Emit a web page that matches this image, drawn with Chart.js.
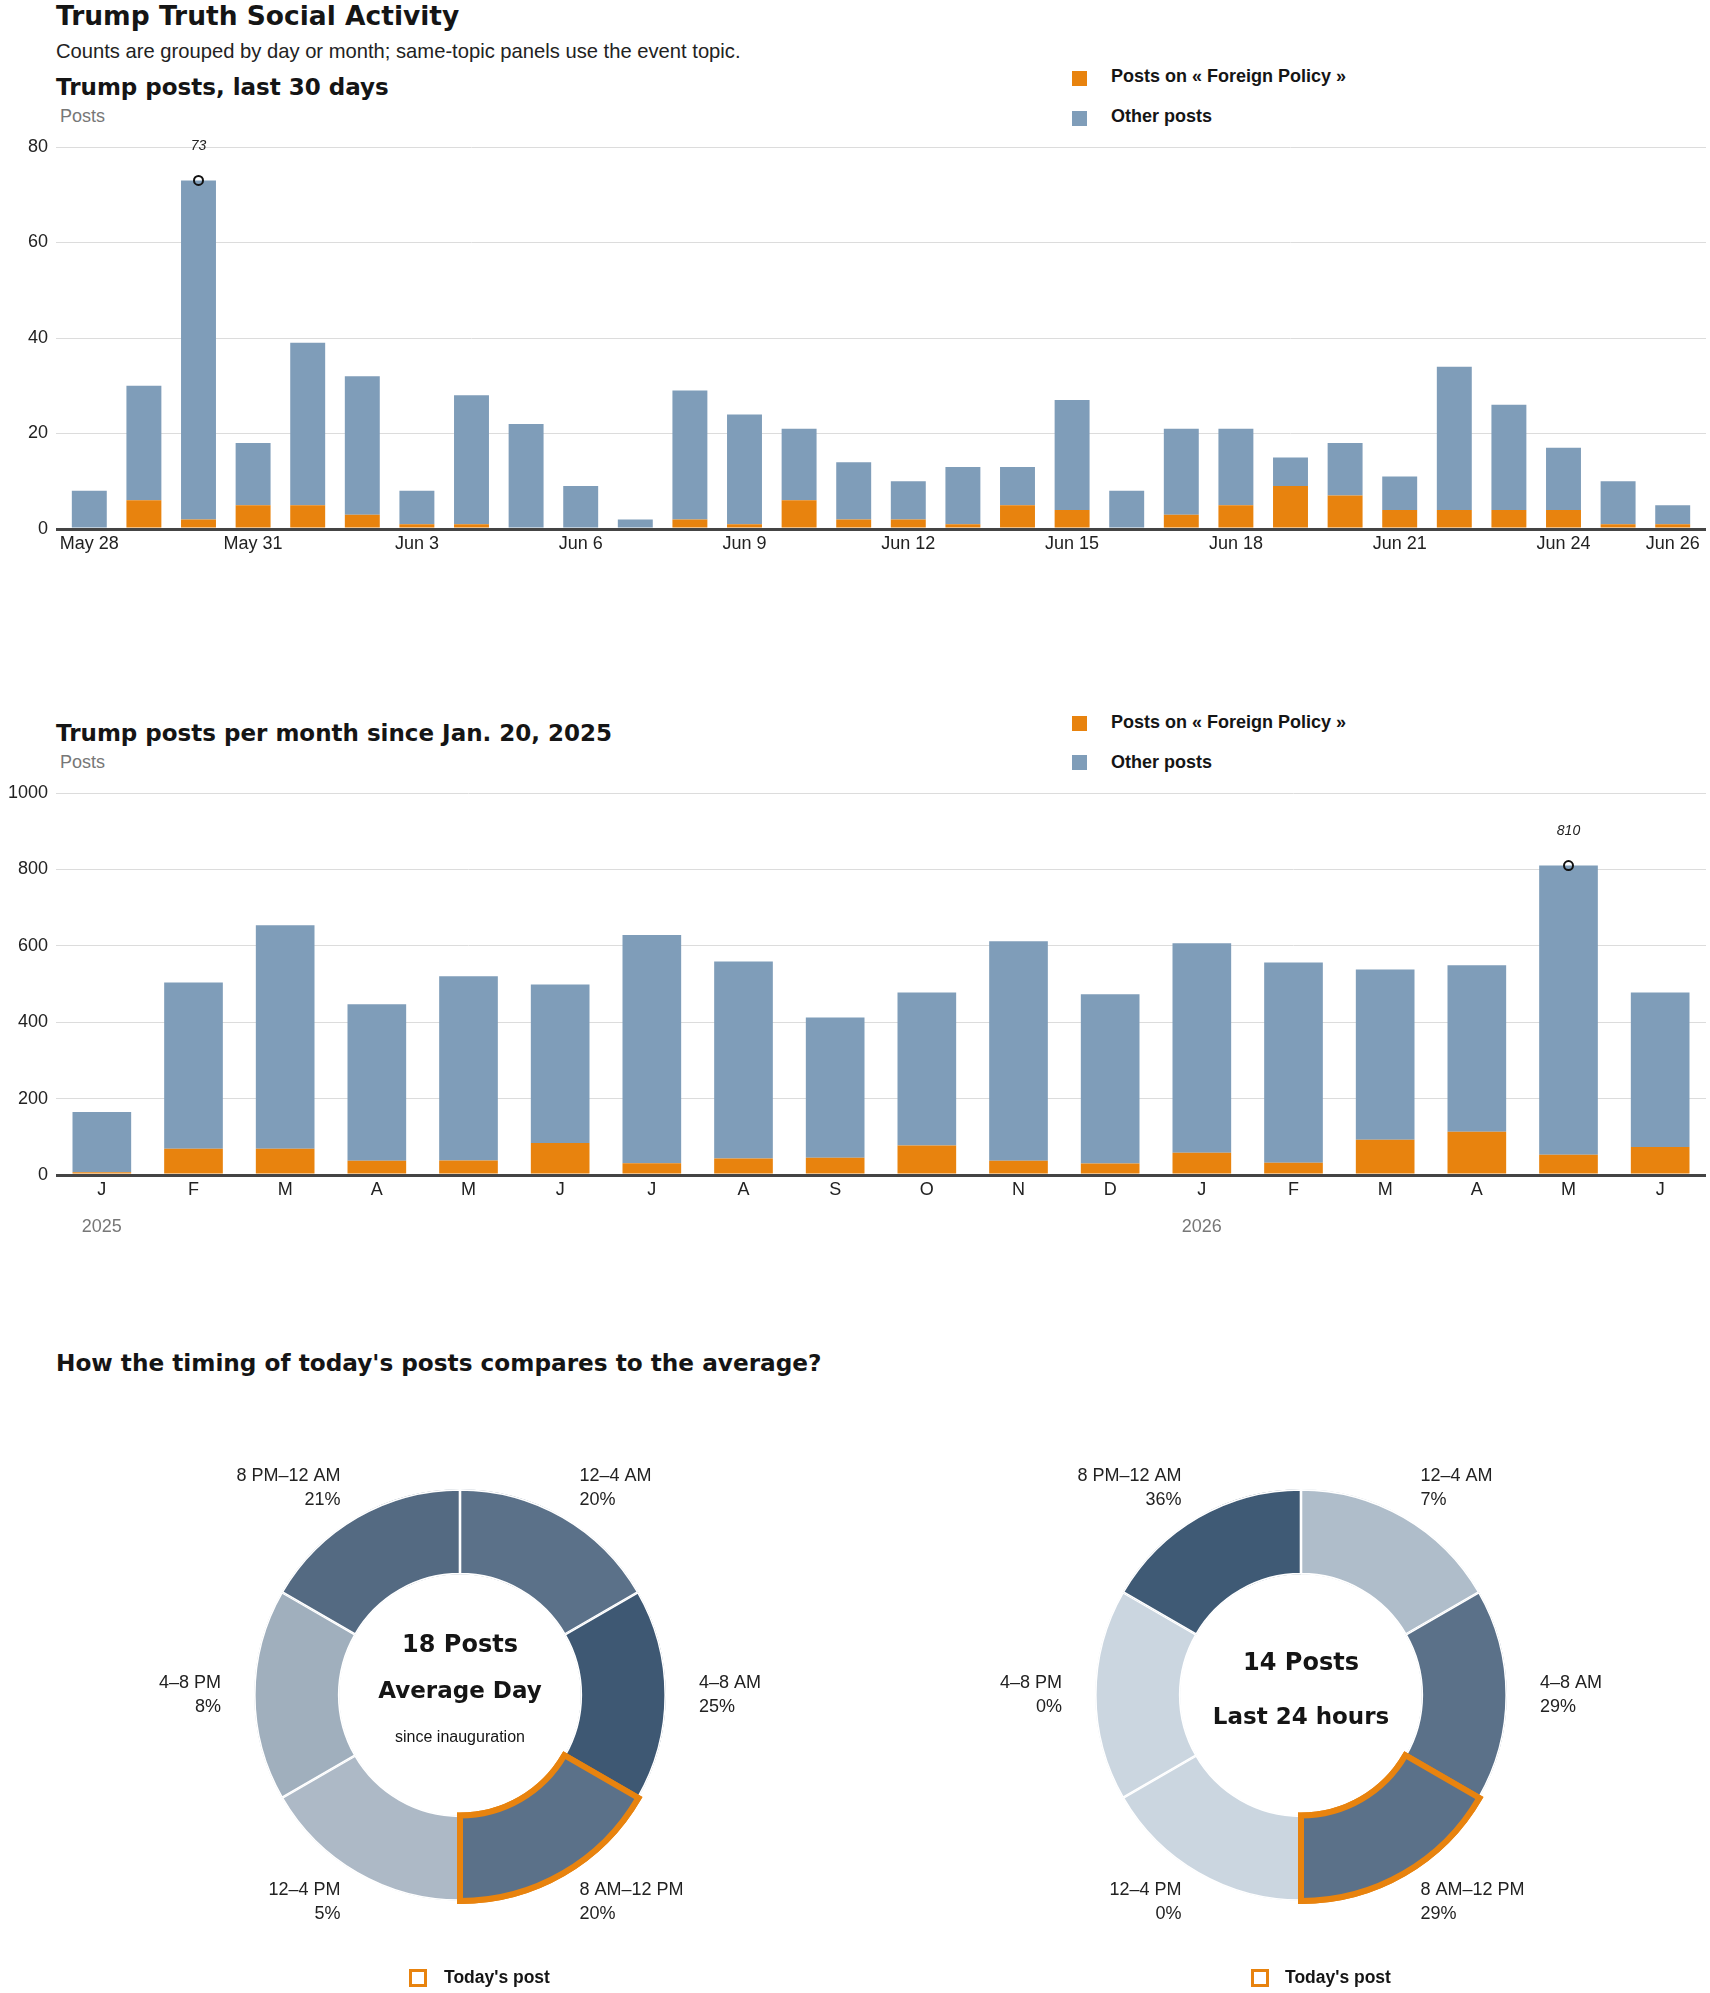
<!DOCTYPE html>
<html>
<head>
<meta charset="utf-8">
<title>Trump Truth Social Activity</title>
<script src="https://cdn.jsdelivr.net/npm/chart.js@4.4.1/dist/chart.umd.min.js"></script>
<style>
    body { margin: 0; background: #fff; }
    #page { position: relative; width: 1710px; height: 1993px; font-family: 'Liberation Sans', Arial, sans-serif; color: #111; }
    .abs { position: absolute; white-space: nowrap; line-height: 1; }
    .hed { font-family: 'DejaVu Sans', sans-serif; font-weight: bold; color: #151515; }
    .axisname { font-size: 18px; color: #777; }
    .legtext { font-weight: bold; font-size: 18px; color: #151515; }
    .sq { position: absolute; width: 15px; height: 15px; }
    .box { position: absolute; width: 12px; height: 12px; border: 3px solid #e8830e; }
    canvas { position: absolute; }
</style>
</head>
<body>
<div id="page">
    <div class="abs hed" style="left:56px; top:3px; font-size:26.5px;">Trump Truth Social Activity</div>
    <div class="abs" style="left:56px; top:41px; font-size:20.2px; color:#222;">Counts are grouped by day or month; same-topic panels use the event topic.</div>

    <div class="abs hed" style="left:56px; top:76px; font-size:23px;">Trump posts, last 30 days</div>
    <div class="abs axisname" style="left:60px; top:107px;">Posts</div>
    <div class="sq" style="left:1072px; top:71px; background:#e8830e;"></div>
    <div class="abs legtext" style="left:1111px; top:67px;">Posts on « Foreign Policy »</div>
    <div class="sq" style="left:1072px; top:111px; background:#7f9db9;"></div>
    <div class="abs legtext" style="left:1111px; top:107px;">Other posts</div>
    <canvas id="dayChart" width="1710" height="450" style="left:0; top:120px;"></canvas>

    <div class="abs hed" style="left:56px; top:722px; font-size:23px;">Trump posts per month since Jan. 20, 2025</div>
    <div class="abs axisname" style="left:60px; top:753px;">Posts</div>
    <div class="sq" style="left:1072px; top:716px; background:#e8830e;"></div>
    <div class="abs legtext" style="left:1111px; top:713px;">Posts on « Foreign Policy »</div>
    <div class="sq" style="left:1072px; top:755px; background:#7f9db9;"></div>
    <div class="abs legtext" style="left:1111px; top:753px;">Other posts</div>
    <canvas id="monthChart" width="1710" height="480" style="left:0; top:765px;"></canvas>

    <div class="abs hed" style="left:56px; top:1351px; font-size:23.2px;">How the timing of today's posts compares to the average?</div>
    <canvas id="avgDonut" width="700" height="560" style="left:110px; top:1415px;"></canvas>
    <canvas id="todayDonut" width="700" height="560" style="left:951px; top:1415px;"></canvas>
    <div class="box" style="left:409px; top:1969px;"></div>
    <div class="abs legtext" style="left:444px; top:1969px; font-size:17.5px;">Today's post</div>
    <div class="box" style="left:1251px; top:1969px;"></div>
    <div class="abs legtext" style="left:1285px; top:1969px; font-size:17.5px;">Today's post</div>
</div>

<script>
    // --- data ---
    var dayLabels = ['May 28', 'May 29', 'May 30', 'May 31', 'Jun 1', 'Jun 2', 'Jun 3', 'Jun 4', 'Jun 5', 'Jun 6',
        'Jun 7', 'Jun 8', 'Jun 9', 'Jun 10', 'Jun 11', 'Jun 12', 'Jun 13', 'Jun 14', 'Jun 15', 'Jun 16',
        'Jun 17', 'Jun 18', 'Jun 19', 'Jun 20', 'Jun 21', 'Jun 22', 'Jun 23', 'Jun 24', 'Jun 25', 'Jun 26'];
    var dayTotal = [8, 30, 73, 18, 39, 32, 8, 28, 22, 9, 2, 29, 24, 21, 14, 10, 13, 13, 27, 8, 21, 21, 15, 18, 11, 34, 26, 17, 10, 5];
    var dayForeign = [0, 6, 2, 5, 5, 3, 1, 1, 0, 0, 0, 2, 1, 6, 2, 2, 1, 5, 4, 0, 3, 5, 9, 7, 4, 4, 4, 4, 1, 1];

    var monthLabels = ['J', 'F', 'M', 'A', 'M', 'J', 'J', 'A', 'S', 'O', 'N', 'D', 'J', 'F', 'M', 'A', 'M', 'J'];
    var monthYears = ['2025', '', '', '', '', '', '', '', '', '', '', '', '2026', '', '', '', '', ''];
    var monthTotal = [165, 504, 654, 447, 520, 499, 628, 559, 412, 478, 612, 473, 607, 556, 538, 549, 810, 478];
    var monthForeign = [7, 69, 69, 37, 38, 84, 31, 43, 45, 77, 37, 30, 58, 32, 92, 113, 53, 73];

    var slotLabels = ['12–4 AM', '4–8 AM', '8 AM–12 PM', '12–4 PM', '4–8 PM', '8 PM–12 AM'];
    var slotWeights = [1, 1, 1, 1, 1, 1];
    var avgShare = [20, 25, 20, 5, 8, 21];
    var todayShare = [7, 29, 29, 0, 0, 36];
    var todaySlot = 2;
    var avgPostsPerDay = 18;
    var last24Posts = 14;

    // --- styles ---
    var ORANGE = '#e8830e';
    var BLUE = '#7f9db9';
    var avgColors = ['#5b7189', '#3e5873', '#5b7189', '#adb9c6', '#a0afbd', '#546a82'];
    var todayColors = ['#afbdca', '#5b7189', '#5b7189', '#cbd6e0', '#cbd6e0', '#3f5a75'];
    var SANS = "'Liberation Sans', Arial, sans-serif";
    var HEAD = "'DejaVu Sans', sans-serif";

    Chart.defaults.font.family = SANS;
    Chart.defaults.color = '#222';

    // zero line is the dark axis, the rest light gridlines
    function gridColor(c) { return c.tick && c.tick.value === 0 ? '#444' : '#dcdcdc'; }
    function gridWidth(c) { return c.tick && c.tick.value === 0 ? 3 : 1; }

    // circle + italic value on top of the tallest bar
    var peakPlugin = {
        id: 'peak',
        afterDatasetsDraw: function (chart, args, opts) {
            var bar = chart.getDatasetMeta(1).data[opts.index];
            var ds = chart.data.datasets;
            var value = ds[0].data[opts.index] + ds[1].data[opts.index];
            var ctx = chart.ctx;
            ctx.save();
            ctx.beginPath();
            ctx.arc(bar.x, bar.y, 4.5, 0, Math.PI * 2);
            ctx.lineWidth = 2;
            ctx.strokeStyle = '#111';
            ctx.stroke();
            ctx.font = "italic 14px 'Liberation Sans Narrow', " + SANS;
            ctx.fillStyle = '#222';
            ctx.textAlign = 'center';
            ctx.textBaseline = 'middle';
            ctx.fillText(String(value), bar.x, bar.y - 34);
            ctx.restore();
        }
    };

    function peakIndex(arr) {
        var best = 0;
        for (var i = 1; i < arr.length; i++) {
            if (arr[i] > arr[best]) best = i;
        }
        return best;
    }

    // inset = how far the gridlines run past the outer bars' slots
    function makeBarChart(id, labels, total, foreign, yMax, yStep, inset, pad, extraScales) {
        var other = [];
        for (var i = 0; i < total.length; i++) {
            other[i] = total[i] - foreign[i];
        }
        var scales = {
            x: {
                stacked: true,
                grid: { display: false, drawTicks: false },
                border: { display: false },
                ticks: { autoSkip: false, maxRotation: 0, padding: 4, color: '#222', font: { size: 18 } },
                afterFit: function (scale) { scale.height = 28; }
            },
            y: {
                stacked: true,
                min: 0,
                max: yMax,
                grid: { color: gridColor, lineWidth: gridWidth, drawTicks: inset > 0, tickLength: inset },
                border: { display: false },
                ticks: {
                    stepSize: yStep, padding: 8, color: '#222', font: { size: 18 },
                    callback: function (v) { return String(v); }
                },
                afterFit: function (scale) { scale.width = 56 + inset; }
            }
        };
        if (inset > 0) {
            scales.y2 = {
                position: 'right',
                min: 0,
                max: yMax,
                grid: { drawOnChartArea: false, drawTicks: true, tickLength: inset, color: gridColor, lineWidth: gridWidth },
                border: { display: false },
                ticks: { display: false, stepSize: yStep },
                afterFit: function (scale) { scale.width = inset; }
            };
        }
        for (var k in extraScales) {
            if (k === 'xTicks') {
                scales.x.ticks.callback = extraScales[k];
            } else {
                scales[k] = extraScales[k];
            }
        }
        var ctx = document.getElementById(id).getContext('2d');
        return new Chart(ctx, {
            type: 'bar',
            data: {
                labels: labels,
                datasets: [{
                    label: 'Posts on « Foreign Policy »',
                    data: foreign,
                    backgroundColor: ORANGE,
                    barPercentage: 0.64,
                    categoryPercentage: 1
                }, {
                    label: 'Other posts',
                    data: other,
                    backgroundColor: BLUE,
                    barPercentage: 0.64,
                    categoryPercentage: 1
                }]
            },
            options: {
                responsive: false,
                animation: false,
                layout: { padding: pad },
                plugins: {
                    legend: { display: false },
                    tooltip: { enabled: false },
                    peak: { index: peakIndex(total) }
                },
                scales: scales
            },
            plugins: [peakPlugin]
        });
    }

    makeBarChart('dayChart', dayLabels, dayTotal, dayForeign, 80, 20, 6,
        { top: 27, bottom: 13, left: 0, right: 4 },
        {
            xTicks: function (value, index) {
                return (index % 3 === 0 || index === dayLabels.length - 1) ? this.getLabelForValue(value) : '';
            }
        });

    makeBarChart('monthChart', monthLabels, monthTotal, monthForeign, 1000, 200, 0,
        { top: 28, bottom: 2, left: 0, right: 4 },
        {
            year: {
                type: 'category',
                labels: monthYears,
                position: 'bottom',
                weight: 1,
                offset: true,
                grid: { display: false, drawTicks: false },
                border: { display: false },
                ticks: { autoSkip: false, maxRotation: 0, padding: 13, color: '#777', font: { size: 18 } },
                afterFit: function (scale) { scale.height = 40; }
            }
        });

    // labels around the ring + text in the hole; today's slot redrawn on top
    var donutTextPlugin = {
        id: 'donutText',
        afterDatasetsDraw: function (chart, args, opts) {
            var ctx = chart.ctx;
            var arcs = chart.getDatasetMeta(0).data;
            arcs[todaySlot].draw(ctx);
            ctx.save();
            ctx.fillStyle = '#222';
            ctx.textBaseline = 'middle';
            ctx.font = '18px ' + SANS;
            for (var i = 0; i < arcs.length; i++) {
                var p = arcs[i].getProps(['x', 'y', 'startAngle', 'endAngle']);
                var mid = (p.startAngle + p.endAngle) / 2;
                var lx = p.x + Math.cos(mid) * 239;
                var ly = p.y + Math.sin(mid) * 239;
                ctx.textAlign = Math.cos(mid) >= 0 ? 'left' : 'right';
                ctx.fillText(chart.data.labels[i], lx, ly - 12);
                ctx.fillText(opts.shares[i] + '%', lx, ly + 12);
            }
            var cx = arcs[0].x, cy = arcs[0].y;
            ctx.textAlign = 'center';
            ctx.fillStyle = '#151515';
            for (var j = 0; j < opts.lines.length; j++) {
                var l = opts.lines[j];
                ctx.font = l.font;
                ctx.fillText(l.text, cx, cy + l.dy);
            }
            ctx.restore();
        }
    };

    function makeDonut(id, shares, colors, lines) {
        var ctx = document.getElementById(id).getContext('2d');
        return new Chart(ctx, {
            type: 'doughnut',
            data: {
                labels: slotLabels,
                datasets: [{
                    data: slotWeights,
                    backgroundColor: colors,
                    borderColor: function (c) { return c.dataIndex === todaySlot ? ORANGE : '#ffffff'; },
                    borderWidth: function (c) { return c.dataIndex === todaySlot ? 6 : 1.3; },
                    borderAlign: function (c) { return c.dataIndex === todaySlot ? 'center' : 'inner'; },
                    borderJoinStyle: 'miter',
                    hoverOffset: 0,
                    offset: 0
                }]
            },
            options: {
                responsive: false,
                animation: false,
                radius: 206,
                cutout: '58.5%',
                plugins: {
                    legend: { display: false },
                    tooltip: { enabled: false },
                    donutText: { shares: shares, lines: lines }
                }
            },
            plugins: [donutTextPlugin]
        });
    }

    makeDonut('avgDonut', avgShare, avgColors, [
        { text: avgPostsPerDay + ' Posts', font: 'bold 24px ' + HEAD, dy: -49 },
        { text: 'Average Day', font: 'bold 23px ' + HEAD, dy: -3 },
        { text: 'since inauguration', font: '16px ' + SANS, dy: 43 }
    ]);
    makeDonut('todayDonut', todayShare, todayColors, [
        { text: last24Posts + ' Posts', font: 'bold 24px ' + HEAD, dy: -31 },
        { text: 'Last 24 hours', font: 'bold 23px ' + HEAD, dy: 23 }
    ]);
</script>
</body>
</html>
